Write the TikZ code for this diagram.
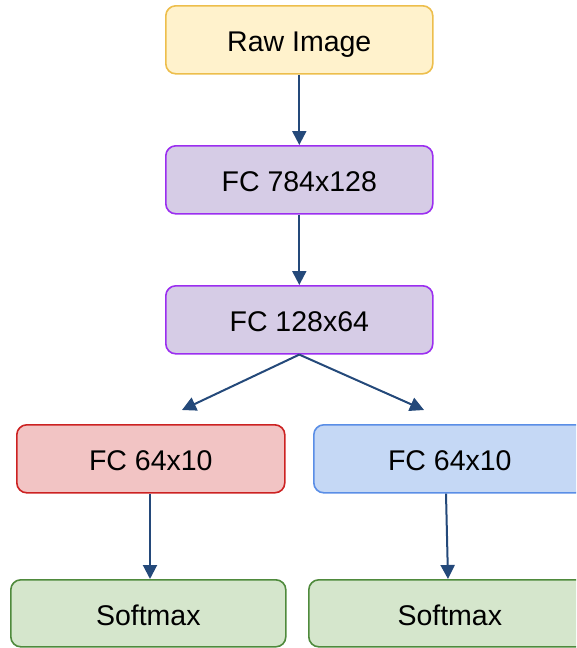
\documentclass[tikz,border=0pt]{standalone}
\usepackage{fontspec}
\setmainfont{Liberation Sans}
\usetikzlibrary{arrows.meta}
\definecolor{yfill}{HTML}{FFF2CC}
\definecolor{ydraw}{HTML}{EDBE4C}
\definecolor{pfill}{HTML}{D6CCE6}
\definecolor{pdraw}{HTML}{9B2EF0}
\definecolor{rfill}{HTML}{F2C4C4}
\definecolor{rdraw}{HTML}{CC2222}
\definecolor{bfill}{HTML}{C5D8F5}
\definecolor{bdraw}{HTML}{5A8EE6}
\definecolor{gfill}{HTML}{D5E6CC}
\definecolor{gdraw}{HTML}{4F8A3C}
\definecolor{arr}{HTML}{24497A}
\tikzset{
  x=1pt, y=-1pt,
  box/.style={rounded corners=10pt, line width=1.6pt, minimum width=267pt, minimum height=68pt, inner sep=0pt, text height=26pt, text depth=2pt, font=\fontsize{28.5}{32}\selectfont, anchor=north west},
  conn/.style={draw=arr, line width=2pt, -{Triangle[length=14pt,width=14pt]}}
}
\begin{document}
\begin{tikzpicture}
\useasboundingbox (0,0) rectangle (576,648);
\clip (0,0) rectangle (576,648);
\node[box, fill=yfill, draw=ydraw] (raw) at (165,5) {Raw Image};
\node[box, fill=pfill, draw=pdraw] (fc1) at (165,145) {FC 784x128};
\node[box, fill=pfill, draw=pdraw] (fc2) at (165,285) {FC 128x64};
\node[box, fill=rfill, draw=rdraw, minimum width=268pt] (fcr) at (16,424) {FC 64x10};
\node[box, fill=bfill, draw=bdraw, minimum width=272pt] (fcb) at (313,424) {FC 64x10};
\node[box, fill=gfill, draw=gdraw, minimum width=275pt, minimum height=67pt] (smr) at (10,579) {Softmax};
\node[box, fill=gfill, draw=gdraw, minimum width=282pt, minimum height=67pt] (smb) at (308,579) {Softmax};
\coordinate (el) at (182,410);
\coordinate (er) at (424,410);
\draw[conn] (raw.south) -- (fc1.north);
\draw[conn] (fc1.south) -- (fc2.north);
\draw[conn] (fc2.south) -- (el);
\draw[conn] (fc2.south) -- (er);
\draw[conn] (fcr.south -| 150,0) -- (smr.north -| 150,0);
\draw[conn] (fcb.south -| 446,0) -- (smb.north -| 448,0);
\end{tikzpicture}
\end{document}
